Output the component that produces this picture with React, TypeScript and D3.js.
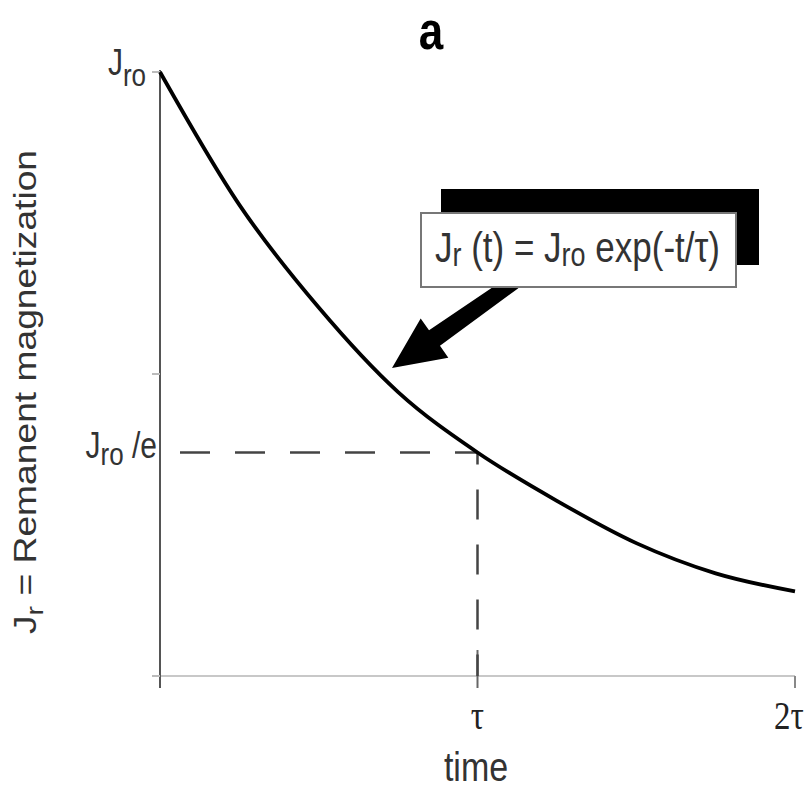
import React, { useEffect, useRef } from 'react';
import * as d3 from 'd3';

// time in units of tau, magnetization as fraction of Jro
const times = [0, 0.25, 0.5, 0.75, 1.0, 1.25, 1.5, 1.75, 2.0];
const magnetization = [1.0, 0.78, 0.61, 0.47, 0.37, 0.29, 0.22, 0.17, 0.14];
const xTicks = [0, 1, 2];
const xTickLabels = ['', 'τ', '2τ'];
const yTicks = [0, 0.5, 1];
const tauLevel = 0.37; // Jro/e

const STRETCH = 1.2; // the original figure's lettering is drawn a little tall

export default function App() {
  const svgRef = useRef<SVGSVGElement>(null);

  useEffect(() => {
    if (!svgRef.current) return;
    const W = 811, H = 791;
    const svg = d3.select(svgRef.current).attr('width', W).attr('height', H);
    svg.selectAll('*').remove();

    const x = d3.scaleLinear().domain([0, 2]).range([160, 795]);
    const y = d3.scaleLinear().domain([0, 1]).range([676, 72]);
    const sans = 'Liberation Sans, Arial, sans-serif';
    const serif = 'Liberation Serif, Times New Roman, serif';

    svg.append('rect').attr('width', W).attr('height', H).attr('fill', '#fff');

    const label = (px: number, py: number, size: number, anchor = 'start', rot = 0) =>
      svg.append('text')
        .attr('transform', `translate(${px},${py}) scale(1,${STRETCH})${rot ? ` rotate(${rot})` : ''}`)
        .attr('text-anchor', anchor)
        .style('font-family', sans).style('font-size', `${size}px`).attr('fill', '#333');

    // title
    label(431, 49, 44, 'middle').style('font-weight', 'bold').attr('fill', '#000').text('a');

    // x axis
    svg.append('line')
      .attr('x1', x(0) - 8).attr('x2', x(2)).attr('y1', y(0)).attr('y2', y(0))
      .attr('stroke', '#c8c8c8').attr('stroke-width', 2);
    xTicks.forEach((t, i) => {
      const top = i === 1 ? y(0) - 26 : y(0);
      svg.append('line')
        .attr('x1', x(t)).attr('x2', x(t)).attr('y1', top).attr('y2', y(0) + 12)
        .attr('stroke', i === 2 ? '#888' : '#666').attr('stroke-width', 2);
      if (xTickLabels[i]) {
        label(x(t) + (i === 2 ? -6 : 0), y(0) + 53, 33, 'middle')
          .style('font-family', serif).attr('fill', '#222')
          .text(xTickLabels[i]);
      }
    });
    label(476, 781, 34, 'middle').text('time');

    // y axis
    svg.append('line')
      .attr('x1', x(0)).attr('x2', x(0)).attr('y1', y(1) - 2).attr('y2', y(0) + 12)
      .attr('stroke', '#555').attr('stroke-width', 2);
    yTicks.forEach(v => {
      svg.append('line')
        .attr('x1', x(0) - 8).attr('x2', x(0)).attr('y1', y(v)).attr('y2', y(v))
        .attr('stroke', '#bbb').attr('stroke-width', 2);
    });

    // y tick labels with subscripts
    const top = label(146, y(1) + 3, 30, 'end');
    top.append('tspan').text('J');
    top.append('tspan').attr('dy', 9).style('font-size', '26px').text('ro');
    const mid = label(157, y(tauLevel) + 5, 30, 'end');
    mid.append('tspan').text('J');
    mid.append('tspan').attr('dy', 6).style('font-size', '26px').text('ro');
    mid.append('tspan').attr('dy', -6).text(' /e');

    // y axis label
    const yl = label(36, 392, 31, 'middle', -90);
    yl.append('tspan').text('J');
    yl.append('tspan').attr('dy', 7).style('font-size', '24px').text('r');
    yl.append('tspan').attr('dy', -7).text(' = Remanent magnetization');

    // dashed guides at t = tau
    svg.append('line')
      .attr('x1', x(0)).attr('x2', x(1)).attr('y1', y(tauLevel)).attr('y2', y(tauLevel))
      .attr('stroke', '#444').attr('stroke-width', 2.5)
      .attr('stroke-dasharray', '30,25').attr('stroke-dashoffset', 35);
    svg.append('line')
      .attr('x1', x(1)).attr('x2', x(1)).attr('y1', y(tauLevel)).attr('y2', y(0))
      .attr('stroke', '#444').attr('stroke-width', 2.5)
      .attr('stroke-dasharray', '30,25').attr('stroke-dashoffset', 18);

    // decay curve
    const pts = times.map((t, i) => [t, magnetization[i]] as [number, number]);
    const line = d3.line<[number, number]>()
      .x(d => x(d[0])).y(d => y(d[1]))
      .curve(d3.curveMonotoneX);
    svg.append('path')
      .datum(pts)
      .attr('fill', 'none').attr('stroke', '#000').attr('stroke-width', 3.8)
      .attr('d', line);

    // arrow from annotation to curve
    const tip = [392, 368];
    const tail = [514, 282];
    const dx = tip[0] - tail[0], dy = tip[1] - tail[1];
    const len = Math.hypot(dx, dy);
    const ux = dx / len, uy = dy / len;
    const nx = -uy, ny = ux;
    const headLen = 52, headW = 24, sw0 = 7.5, sw1 = 9.5;
    const bx = tip[0] - ux * headLen, by = tip[1] - uy * headLen;
    const arrow = [
      [tail[0] + nx * sw0, tail[1] + ny * sw0],
      [bx + nx * sw1, by + ny * sw1],
      [bx + nx * headW, by + ny * headW],
      tip,
      [bx - nx * headW, by - ny * headW],
      [bx - nx * sw1, by - ny * sw1],
      [tail[0] - nx * sw0, tail[1] - ny * sw0],
    ];
    svg.append('path')
      .attr('d', 'M' + arrow.map(p => p.join(',')).join('L') + 'Z')
      .attr('fill', '#000');

    // annotation box with shadow
    svg.append('rect')
      .attr('x', 441).attr('y', 189).attr('width', 318).attr('height', 76)
      .attr('fill', '#000');
    svg.append('rect')
      .attr('x', 421).attr('y', 213).attr('width', 315).attr('height', 74)
      .attr('fill', '#fff').attr('stroke', '#777').attr('stroke-width', 2);
    const ann = label(435, 262, 35);
    ann.append('tspan').text('J');
    ann.append('tspan').attr('dy', 3).style('font-size', '27px').text('r');
    ann.append('tspan').attr('dy', -3).text(' (t) = J');
    ann.append('tspan').attr('dy', 3).style('font-size', '27px').text('ro');
    ann.append('tspan').attr('dy', -3).text(' exp(-t/τ)');
  }, []);

  return (
    <svg ref={svgRef} style={{ position: 'absolute', left: 0, top: 0, display: 'block' }}></svg>
  );
}
